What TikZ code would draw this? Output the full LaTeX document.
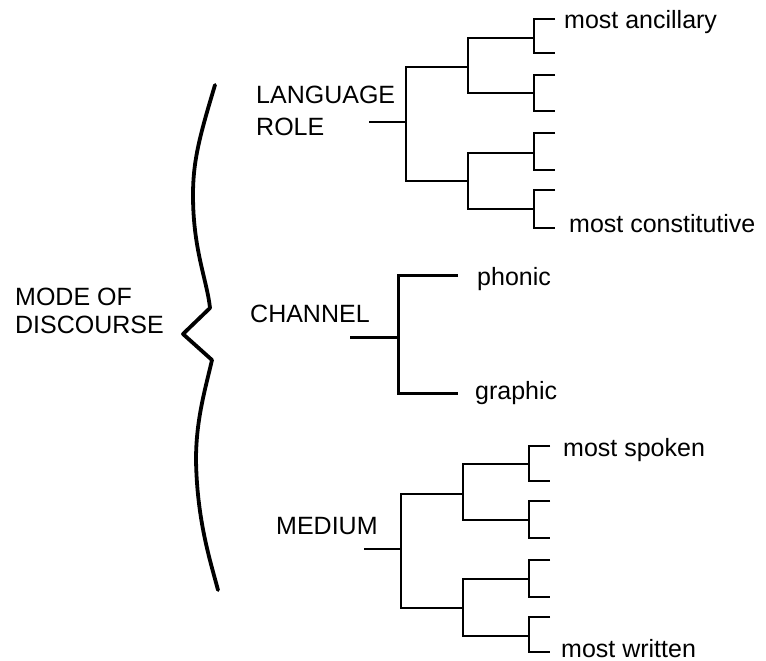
\documentclass[tikz,border=0pt]{standalone}
\usepackage{fontspec}
\setmainfont{Liberation Sans}
\begin{document}
\begin{tikzpicture}[x=1pt,y=-1pt,
  treeline/.style={line width=2.2pt, line join=miter},
  chanline/.style={line width=3pt, line join=miter},
  braceline/.style={line width=3.8pt, line join=round, line cap=round},
  lbl/.style={anchor=base west, inner sep=0pt, font=\fontsize{25}{30}\selectfont}]
\useasboundingbox (0,0) rectangle (766,661);

% ---------- labels ----------
\node[lbl] (mode1) at (15,305) {MODE OF};
\node[lbl] (mode2) at (15,333) {DISCOURSE};
\node[lbl] (lang1) at (256,103) {LANGUAGE};
\node[lbl] (lang2) at (256,135) {ROLE};
\node[lbl] (chan)  at (250,322) {CHANNEL};
\node[lbl] (med)   at (276,534) {MEDIUM};
\node[lbl] (anc)   at (564,29)  {most ancillary};
\node[lbl] (cons)  at (569,232) {most constitutive};
\node[lbl] (phon)  at (477,285) {phonic};
\node[lbl] (graph) at (475,399) {graphic};
\node[lbl] (spok)  at (563,456) {most spoken};
\node[lbl] (writ)  at (561,657) {most written};

% ---------- brace ----------
\coordinate (bTop) at (215,85);
\coordinate (bK1) at (210,308);
\coordinate (bTip) at (183,334);
\coordinate (bK2) at (212,360);
\coordinate (bBot) at (218,590);
\draw[braceline] (bTop) .. controls (200,135) and (193,160) .. (193,195)
  .. controls (193,250) and (207,280) .. (bK1) -- (bTip) -- (bK2)
  .. controls (205,390) and (196,420) .. (196,460)
  .. controls (197,520) and (210,560) .. (bBot);

% ---------- language role tree ----------
\coordinate (lrS) at (369,122);
\coordinate (lr0) at (406,122);
\coordinate (lrA) at (468,67);
\coordinate (lrB) at (468,181);
\coordinate (lrAA) at (534,38);
\coordinate (lrAB) at (534,93);
\coordinate (lrBA) at (534,153);
\coordinate (lrBB) at (534,209);
\coordinate (lr1) at (555,19);
\coordinate (lr2) at (555,53);
\coordinate (lr3) at (555,75);
\coordinate (lr4) at (555,111);
\coordinate (lr5) at (555,133);
\coordinate (lr6) at (555,170);
\coordinate (lr7) at (555,190);
\coordinate (lr8) at (555,228);
\draw[treeline] (lrS) -- (lr0);
\draw[treeline] (lrA) -| (lr0) |- (lrB);
\draw[treeline] (lrAA) -| (lrA) |- (lrAB);
\draw[treeline] (lrBA) -| (lrB) |- (lrBB);
\draw[treeline] (lr1) -| (lrAA) |- (lr2);
\draw[treeline] (lr3) -| (lrAB) |- (lr4);
\draw[treeline] (lr5) -| (lrBA) |- (lr6);
\draw[treeline] (lr7) -| (lrBB) |- (lr8);

% ---------- channel ----------
\coordinate (chS) at (350,337);
\coordinate (ch0) at (398,337);
\coordinate (chP) at (458,275);
\coordinate (chG) at (458,393);
\draw[chanline] (chS) -- (ch0);
\draw[chanline] (chP) -| (ch0) |- (chG);

% ---------- medium tree ----------
\coordinate (mdS) at (364,549);
\coordinate (md0) at (401,549);
\coordinate (mdA) at (463,494);
\coordinate (mdB) at (463,608);
\coordinate (mdAA) at (529,464);
\coordinate (mdAB) at (529,520);
\coordinate (mdBA) at (529,579);
\coordinate (mdBB) at (529,636);
\coordinate (md1) at (550,446);
\coordinate (md2) at (550,481);
\coordinate (md3) at (550,501);
\coordinate (md4) at (550,538);
\coordinate (md5) at (550,560);
\coordinate (md6) at (550,597);
\coordinate (md7) at (550,617);
\coordinate (md8) at (550,652);
\draw[treeline] (mdS) -- (md0);
\draw[treeline] (mdA) -| (md0) |- (mdB);
\draw[treeline] (mdAA) -| (mdA) |- (mdAB);
\draw[treeline] (mdBA) -| (mdB) |- (mdBB);
\draw[treeline] (md1) -| (mdAA) |- (md2);
\draw[treeline] (md3) -| (mdAB) |- (md4);
\draw[treeline] (md5) -| (mdBA) |- (md6);
\draw[treeline] (md7) -| (mdBB) |- (md8);
\end{tikzpicture}
\end{document}
